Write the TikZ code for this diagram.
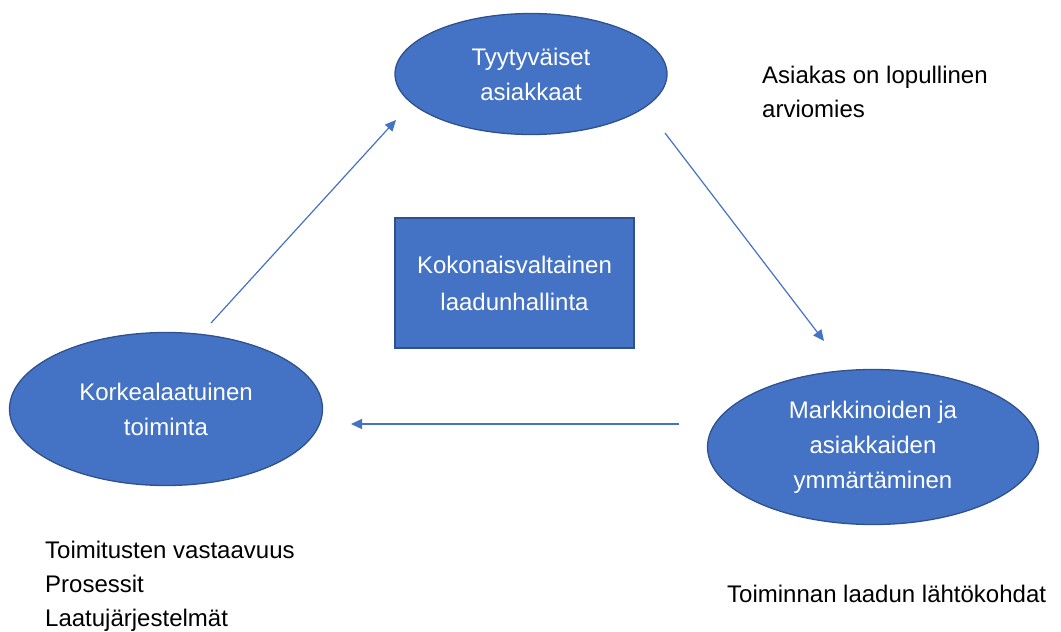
\documentclass[tikz,border=0pt]{standalone}
\usepackage{fontspec}
\setmainfont{Liberation Sans}
\usepackage{tikz}
\usetikzlibrary{shapes,arrows.meta,positioning,calc}
\definecolor{offblue}{HTML}{4472C4}
\definecolor{offedge}{HTML}{2F528F}

\begin{document}
\begin{tikzpicture}[x=1pt, y=-1pt, >={Triangle[length=11pt,width=10pt]},
  blob/.style={ellipse, draw=offedge, fill=offblue, line width=1.3pt, inner sep=0pt,
    text=white, align=center, font=\fontsize{24}{35}\selectfont},
  boxnode/.style={rectangle, draw=offedge, fill=offblue, line width=1.3pt, inner sep=0pt,
    text=white, align=center, font=\fontsize{24}{37}\selectfont},
  note/.style={anchor=base west, inner sep=0pt, align=left, font=\fontsize{24}{34}\selectfont},
  flow/.style={->, draw=offblue, line width=1.2pt}]
  \useasboundingbox (0,0) rectangle (1061,632);
  \node [blob, minimum width=272, minimum height=121] (happy) at (531,74) {Tyytyväiset\\asiakkaat};
  \node [blob, minimum width=313, minimum height=153] (quality) at (166,409) {Korkealaatuinen\\toiminta};
  \node [blob, minimum width=331, minimum height=155] (market) at (873,447) {Markkinoiden ja\\asiakkaiden\\ymmärtäminen};
  \node [boxnode, minimum width=239, minimum height=130] (tqm) at (514.5,283) {Kokonaisvaltainen\\laadunhallinta};

  % base anchor sits on the last line
  \node [note] (judge) at (762,117) {Asiakas on lopullinen\\arviomies};
  \node [note] (basis) at (45,626) {Toimitusten vastaavuus\\Prosessit\\Laatujärjestelmät};
  \node [note] (start) at (727,602) {Toiminnan laadun lähtökohdat};

  \coordinate (up from) at (211,323);
  \coordinate (up to) at (396,120);
  \coordinate (down from) at (665,133);
  \coordinate (down to) at (824,341);
  \coordinate (back from) at (679,424);
  \coordinate (back to) at (351,424);
  \draw [flow] (up from) -- (up to);
  \draw [flow] (down from) -- (down to);
  \draw [flow] (back from) -- (back to);
\end{tikzpicture}
\end{document}
